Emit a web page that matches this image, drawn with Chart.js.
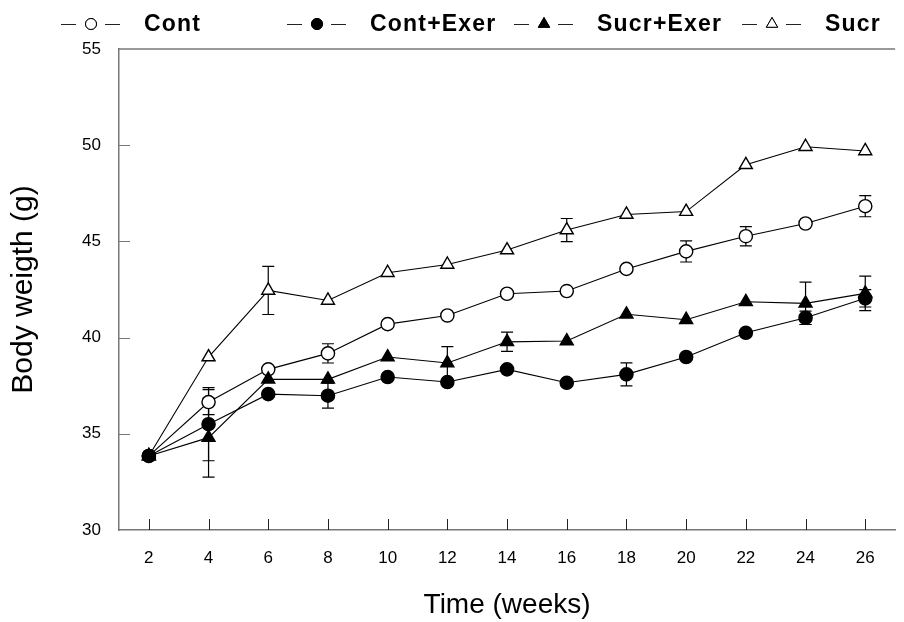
<!DOCTYPE html>
<html lang="en">
<head>
    <meta charset="UTF-8">
    <title>Body weight over time</title>
    <script src="https://cdn.jsdelivr.net/npm/chart.js"></script>
    <style>
        html, body {
            margin: 0;
            padding: 0;
            background: #fff;
        }
        #wrap {
            width: 904px;
            height: 622px;
        }
    </style>
</head>
<body>
    <div id="wrap"><canvas id="bwChart"></canvas></div>

    <script>
        // weeks on study
        const weeks = [2, 4, 6, 8, 10, 12, 14, 16, 18, 20, 22, 24, 26];
        const yTicks = [30, 35, 40, 45, 50, 55];

        // mean body weight (g)
        const cont     = [33.85, 36.65, 38.35, 39.18, 40.70, 41.15, 42.28, 42.42, 43.57, 44.48, 45.27, 45.93, 46.83];
        const contExer = [33.85, 35.50, 37.06, 36.98, 37.95, 37.69, 38.35, 37.65, 38.09, 38.99, 40.25, 41.03, 42.04];
        const sucrExer = [33.85, 34.80, 37.83, 37.83, 38.99, 38.68, 39.78, 39.82, 41.21, 40.93, 41.86, 41.78, 42.30];
        const sucr     = [33.85, 38.99, 42.45, 41.93, 43.37, 43.80, 44.55, 45.59, 46.40, 46.55, 48.98, 49.92, 49.70];

        // SEM (0 = bar hidden behind the marker)
        const contErr     = [0, 0.65, 0, 0.50, 0, 0, 0, 0, 0, 0.55, 0.50, 0, 0.55];
        const contExerErr = [0, 1.90, 0, 0.65, 0, 0, 0, 0, 0.60, 0, 0, 0.35, 0.45];
        const sucrExerErr = [0, 2.05, 0, 0, 0, 0.85, 0.50, 0, 0, 0, 0, 1.10, 0.90];
        const sucrErr     = [0, 0, 1.25, 0, 0, 0, 0, 0.60, 0, 0, 0, 0, 0];

        const FONT = "'Liberation Sans', Arial, sans-serif";
        const AXIS = "#777";

        // lower order is painted last, so the filled symbols sit on top
        function series(label, values, errs, style, filled, order) {
            const tri = style === "triangle";
            return {
                label: label,
                order: order,
                data: weeks.map((w, i) => ({ x: w, y: values[i] })),
                errors: errs,
                borderColor: "#000",
                borderWidth: 1.1,
                pointStyle: style,
                pointRadius: tri ? 7.5 : 6.6,
                pointBorderWidth: 1.4,
                pointBorderColor: "#000",
                pointBackgroundColor: filled ? "#000" : "#fff",
                pointHoverRadius: tri ? 7.5 : 6.6,
                tension: 0,
                fill: false
            };
        }

        // vertical SEM bars with caps, drawn under the lines and markers
        const errorBars = {
            id: "errorBars",
            beforeDatasetsDraw(chart) {
                const ctx = chart.ctx;
                const ys = chart.scales.y;
                ctx.save();
                ctx.strokeStyle = "#000";
                ctx.lineWidth = 1.2;
                chart.data.datasets.forEach((ds, di) => {
                    const meta = chart.getDatasetMeta(di);
                    meta.data.forEach((pt, i) => {
                        const e = ds.errors[i];
                        if (!e) return;
                        const v = ds.data[i].y;
                        const top = ys.getPixelForValue(v + e);
                        const bot = ys.getPixelForValue(v - e);
                        ctx.beginPath();
                        ctx.moveTo(pt.x, top);
                        ctx.lineTo(pt.x, bot);
                        ctx.moveTo(pt.x - 6, top);
                        ctx.lineTo(pt.x + 6, top);
                        ctx.moveTo(pt.x - 6, bot);
                        ctx.lineTo(pt.x + 6, bot);
                        ctx.stroke();
                    });
                });
                ctx.restore();
            }
        };

        // inward tick marks and the top frame line
        const frame = {
            id: "frame",
            afterDraw(chart) {
                const ctx = chart.ctx;
                const a = chart.chartArea;
                const xs = chart.scales.x;
                const ys = chart.scales.y;
                ctx.save();
                ctx.strokeStyle = AXIS;
                ctx.lineWidth = 1.5;
                ctx.beginPath();
                ctx.moveTo(a.left, a.top);
                ctx.lineTo(a.right, a.top);
                ctx.stroke();
                ctx.lineWidth = 1.2;
                ctx.beginPath();
                yTicks.slice(1, -1).forEach(v => {
                    const y = Math.round(ys.getPixelForValue(v)) + 0.5;
                    ctx.moveTo(a.left, y);
                    ctx.lineTo(a.left + 11, y);
                });
                ctx.stroke();
                ctx.strokeStyle = "#222";
                ctx.lineWidth = 1;
                ctx.beginPath();
                weeks.forEach(w => {
                    const x = Math.round(xs.getPixelForValue(w)) + 0.5;
                    ctx.moveTo(x, a.bottom);
                    ctx.lineTo(x, a.bottom - 11);
                });
                ctx.stroke();
                ctx.restore();
            }
        };

        // legend row across the top: dash, marker, dash, bold label
        const legendRow = {
            id: "legendRow",
            afterDraw(chart) {
                const ctx = chart.ctx;
                const starts = [61, 287, 514, 742];
                const y = 24;
                ctx.save();
                chart.data.datasets.forEach((ds, i) => {
                    const x0 = starts[i];
                    ctx.strokeStyle = "#222";
                    ctx.lineWidth = 1;
                    ctx.beginPath();
                    ctx.moveTo(x0, y + 0.5);
                    ctx.lineTo(x0 + 15, y + 0.5);
                    ctx.moveTo(x0 + 44, y + 0.5);
                    ctx.lineTo(x0 + 59, y + 0.5);
                    ctx.stroke();
                    Chart.helpers.drawPoint(ctx, {
                        pointStyle: ds.pointStyle,
                        radius: ds.pointStyle === "triangle" ? 6.5 : 5.5,
                        borderWidth: 1
                    }, x0 + 30, y);
                    ctx.fillStyle = ds.pointBackgroundColor;
                    ctx.strokeStyle = "#000";
                    ctx.lineWidth = 1;
                    ctx.fill();
                    ctx.stroke();
                    ctx.fillStyle = "#000";
                    ctx.font = "bold 23px " + FONT;
                    ctx.letterSpacing = "1.2px";
                    ctx.textBaseline = "middle";
                    ctx.textAlign = "left";
                    ctx.fillText(ds.label, x0 + 83, y + 1);
                    ctx.letterSpacing = "0px";
                });
                ctx.restore();
            }
        };

        const ctx = document.getElementById("bwChart").getContext("2d");
        const chart = new Chart(ctx, {
            type: "line",
            data: {
                datasets: [
                    series("Cont", cont, contErr, "circle", false, 2),
                    series("Cont+Exer", contExer, contExerErr, "circle", true, 0),
                    series("Sucr+Exer", sucrExer, sucrExerErr, "triangle", true, 1),
                    series("Sucr", sucr, sucrErr, "triangle", false, 3)
                ]
            },
            options: {
                responsive: true,
                maintainAspectRatio: false,
                animation: false,
                layout: { padding: { top: 49, right: 0, left: 0, bottom: 0 } },
                plugins: {
                    legend: { display: false },
                    tooltip: { enabled: false }
                },
                scales: {
                    x: {
                        type: "linear",
                        min: 1,
                        max: 27,
                        afterBuildTicks(scale) {
                            scale.ticks = weeks.map(w => ({ value: w }));
                        },
                        afterFit(scale) { scale.height = 92; },
                        grid: { drawOnChartArea: false, drawTicks: false },
                        border: { color: AXIS, width: 1.5 },
                        ticks: {
                            padding: 18,
                            color: "#000",
                            font: { family: FONT, size: 17 },
                            maxRotation: 0,
                            autoSkip: false
                        },
                        title: {
                            display: true,
                            text: "Time (weeks)",
                            color: "#000",
                            font: { family: FONT, size: 28 },
                            padding: { top: 0, bottom: 0 }
                        }
                    },
                    y: {
                        min: 30,
                        max: 55,
                        afterBuildTicks(scale) {
                            scale.ticks = yTicks.map(v => ({ value: v }));
                        },
                        afterFit(scale) { scale.width = 119; },
                        grid: { drawOnChartArea: false, drawTicks: false },
                        border: { color: AXIS, width: 1.5 },
                        ticks: {
                            padding: 18,
                            color: "#000",
                            font: { family: FONT, size: 17 }
                        },
                        title: {
                            display: true,
                            text: "Body weigth (g)",
                            color: "#000",
                            font: { family: FONT, size: 30 },
                            padding: { top: 6, bottom: 0 }
                        }
                    }
                }
            },
            plugins: [errorBars, frame, legendRow]
        });
    </script>
</body>
</html>
